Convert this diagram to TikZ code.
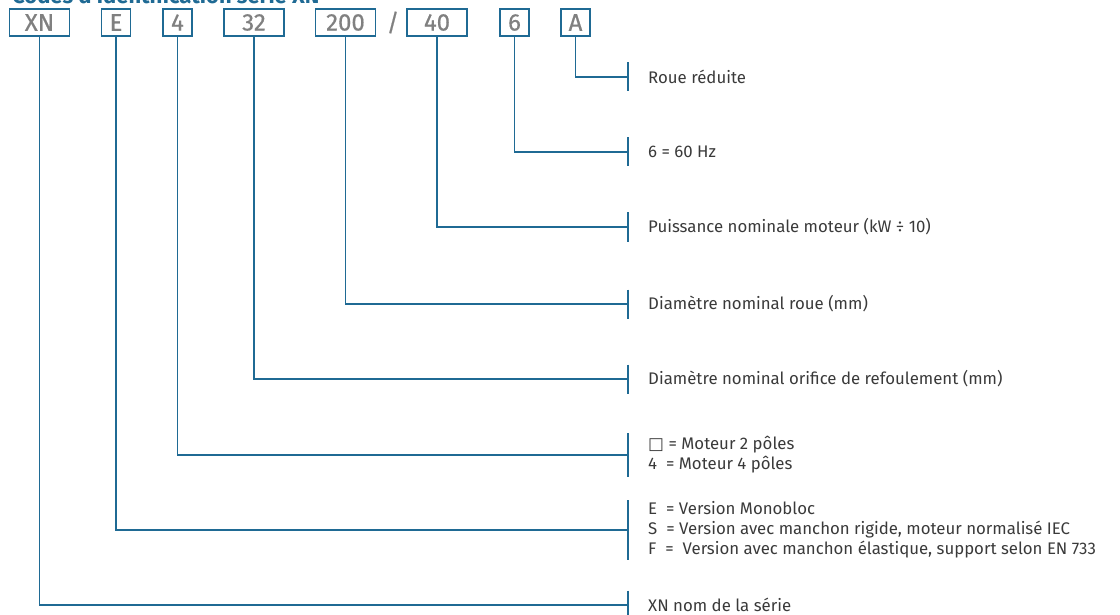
\documentclass[tikz,border=0pt]{standalone}
\usepackage{fontspec}
\setmainfont{Fira Sans}
\newfontfamily\symfont{DejaVu Sans}
\newfontfamily\codefont{Fira Sans}[FakeBold=0.6]
\definecolor{codeblue}{HTML}{1F6A94}
\definecolor{codegray}{HTML}{808080}
\definecolor{txtgray}{HTML}{3A3A3A}

\begin{document}
\begin{tikzpicture}[x=1pt, y=-1pt,
    code/.style={rectangle, draw=codeblue, line width=1.4pt, minimum height=27pt, minimum width=29pt, inner sep=0pt, text=codegray, font=\codefont\fontsize{24}{24}\selectfont},
    widecode/.style={code, minimum width=60pt},
    lead/.style={draw=codeblue, line width=1.2pt},
    desc/.style={anchor=west, align=left, text=txtgray, inner sep=0pt, font=\fontsize{16.8}{20}\selectfont}
  ]
  \useasboundingbox (0,0) rectangle (1120,615);

  % Title (cut by the top edge)
  \node[anchor=base west, inner sep=0pt, text=codeblue, font=\bfseries\fontsize{22}{22}\selectfont] (title) at (12,4) {Codes d'identification série XN};

  % Code boxes
  \node[widecode] (xn) at (39.5,22.5) {XN};
  \node[code] (e) at (116,22.5) {E};
  \node[code] (four) at (177.5,22.5) {4};
  \node[widecode] (dn) at (254,22.5) {32};
  \node[widecode] (dw) at (345.5,22.5) {200};
  \node[text=codegray, font=\codefont\fontsize{24}{24}\selectfont, inner sep=0pt] (slash) at (393,22.5) {/};
  \node[widecode] (kw) at (437,22.5) {40};
  \node[code] (hz) at (514.5,22.5) {6};
  \node[code] (a) at (575.5,22.5) {A};

  % Descriptions
  \node[desc] (la) at (648,77) {Roue réduite};
  \node[desc] (lhz) at (648,152) {6 = 60 Hz};
  \node[desc] (lkw) at (648,227) {Puissance nominale moteur (kW ÷ 10)};
  \node[desc] (ldw) at (648,304) {Diamètre nominal roue (mm)};
  \node[desc] (ldn) at (648,379) {Diamètre nominal orifice de refoulement (mm)};
  \node[desc] (lfour) at (648,455) {{\symfont □} = Moteur 2 pôles\\4\ \ = Moteur 4 pôles};
  \node[desc] (le) at (648,530) {E\ \ = Version Monobloc\\S\ \ = Version avec manchon rigide, moteur normalisé IEC\\F\ \ =\ \ Version avec manchon élastique, support selon EN 733};
  \node[desc] (lxn) at (648,605) {XN nom de la série};

  % Leaders with end ticks
  \foreach \src/\lbl/\h in {a/la/14.5, hz/lhz/14.5, kw/lkw/14.5, dw/ldw/14.5, dn/ldn/14.5, four/lfour/22, e/le/30, xn/lxn/14.5} {
    \coordinate (t-\lbl) at ([xshift=-20pt]\lbl.west);
    \draw[lead] (\src.south) |- (t-\lbl);
    \draw[lead] ([yshift=\h pt]t-\lbl) -- ([yshift=-\h pt]t-\lbl);
  }
\end{tikzpicture}
\end{document}
